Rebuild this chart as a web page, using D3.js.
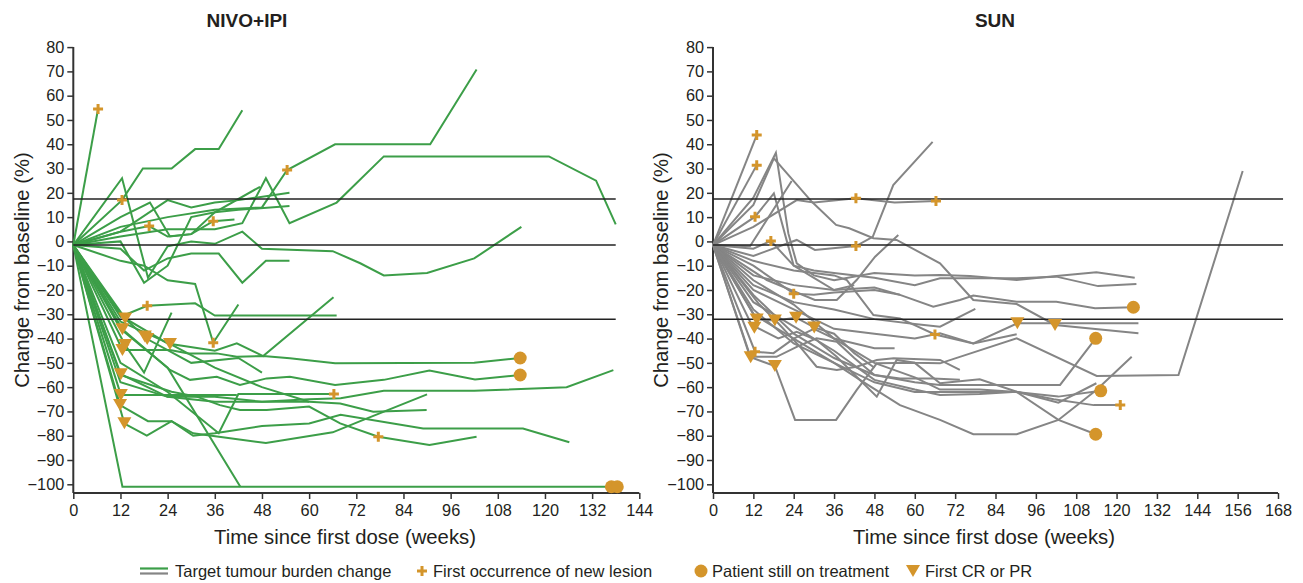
<!DOCTYPE html>
<html><head><meta charset="utf-8">
<script src="https://cdn.jsdelivr.net/npm/d3@7"></script>
<style>body{margin:0;background:#fff} text{font-family:"Liberation Sans",Arial,sans-serif;fill:#231f20}</style>
</head><body>
<svg id="c" width="1303" height="583"></svg>
<script>
// ---------- data ----------
const yTicks = d3.range(-100, 81, 10);
const xTicksNivo = d3.range(0, 145, 12);
const xTicksSun = d3.range(0, 169, 12);
const refLevels = [17.5, -1.5, -32];

const nivoLines = [
 [[0,-1.5],[6.3,54.5]],
 [[0,-1.5],[12.4,17],[17.7,30],[25,30],[31,38],[37,38],[43,54]],
 [[0,-1.5],[12.4,26],[19,-15],[24,-2],[30,0],[36,-1],[43,4],[48,-3],[66,-4],[73,-9],[79,-14],[90,-13],[102,-7],[114,6]],
 [[0,-1.5],[12,4],[19.3,6.3],[24,2],[30,3],[35.6,8.3],[41,9]],
 [[0,-1.5],[12,6],[24,10],[36,13],[48,14],[54.4,29.4],[66.6,40],[90.8,40],[102.6,70.8]],
 [[0,-1.5],[12,2],[24,5],[36,5],[43,7.5],[49,26],[55,7.5],[67,16],[79,35],[121,35],[133,25],[138,7]],
 [[0,-1.5],[12,10],[19.5,16],[24.6,2],[30,3],[36,12],[47.5,22.5]],
 [[0,-1.5],[12,4],[24,17],[30,14],[36,16],[42,17],[55,20]],
 [[0,-1.5],[12,0],[18,-17],[24,-10],[30,10],[36,12],[42,13],[55,14.6]],
 [[0,-1.5],[12,-3],[18,-12],[24,-7],[30,-5],[37,-5],[43,-17],[49,-8],[55,-8]],
 [[0,-1.5],[12,-8],[18,-10],[24,-16],[31,-17.5],[35.6,-41.7],[42,-26]],
 [[0,-1.5],[12,-31],[18.8,-26.5],[31,-25.5],[36,-30.5],[67,-30.5]],
 [[0,-1.5],[12.5,-101],[138.4,-101]],
 [[0,-1.5],[12,-36],[24,-52],[42.5,-101]],
 [[0,-1.5],[12.5,-44.7],[24.6,-44.7],[29.3,-46.1],[36.5,-46.1],[41.6,-47.5],[48.3,-47.2],[55.1,-48.1],[66.6,-50.2],[102,-50],[113.7,-48]],
 [[0,-1.5],[12.5,-36.2],[24.6,-52.9],[29.7,-57],[36.5,-55.7],[42.4,-59.1],[49.2,-56.4],[55.1,-55.7],[66.6,-59.1],[79,-57],[90.6,-53.2],[102.2,-56.8],[113.7,-55]],
 [[0,-1.5],[12.1,-54.7],[24,-64],[36,-66],[48,-66],[60,-65],[68,-64.6],[79,-61.5],[102,-61.5],[125.5,-60],[137.4,-53]],
 [[0,-1.5],[12.1,-63.2],[41.6,-63.2]],
 [[0,-1.5],[12,-50],[24,-62],[37,-79],[42,-62.8],[66.3,-62.8]],
 [[0,-1.5],[11.9,-67.4],[19,-74],[25,-74],[30.5,-79],[49,-83],[66,-78.6],[73,-74],[90,-63]],
 [[0,-1.5],[13,-75],[18.7,-80],[25,-74],[30.5,-80],[36,-79],[48,-76],[60,-75],[68,-71.4],[89,-77],[114.4,-77],[126.2,-82.7]],
 [[0,-1.5],[12,-55],[25,-61.9],[31.4,-63.9],[37.3,-67.4],[42.4,-69.4],[49.2,-69.4],[60,-68],[67.9,-74.9],[77.6,-80.4],[90.6,-83.8],[102.6,-80.4]],
 [[0,-1.5],[12,-58],[24,-64],[36,-64],[48,-66],[60,-66],[67.9,-66.7],[76.3,-70.1],[89.9,-69.4]],
 [[0,-1.5],[13.2,-31.7],[24,-42],[36,-45],[41.6,-42],[48.3,-47.2],[66.2,-23]],
 [[0,-1.5],[13.2,-42.7],[18,-54],[25,-29.3]],
 [[0,-1.5],[12,-30],[18.8,-40.2],[30,-50],[42,-48],[48,-54]],
 [[0,-1.5],[12,-33],[24.6,-42.2],[36,-52],[48,-60],[60,-66]]
];
const nivoNewLesion = [[6.3,54.5],[12.4,17],[19.3,6.3],[35.6,8.3],[54.4,29.4],[18.8,-26.5],[35.6,-41.7],[66.3,-62.8],[77.6,-80.4]];
const nivoOnTreatment = [[113.7,-48],[113.7,-55],[136.9,-101],[138.4,-101]];
const nivoResponse = [[13.2,-31.7],[12.5,-36.2],[13.2,-42.7],[12.5,-44.7],[18.2,-39.2],[18.8,-40.2],[24.6,-42.2],[12.1,-54.7],[12.1,-63.2],[11.9,-67.4],[13,-74.9]];

const sunLines = [
 [[0,-1.5],[13,43.8]],
 [[0,-1.5],[13,31.4]],
 [[0,-1.5],[11,-2],[23.4,24.9]],
 [[0,-1.5],[12,15],[18.1,34.2],[29.4,16.3],[36.6,6.8],[40.5,5.4],[47.7,1.3],[54.6,0.6],[67.5,-9],[77.4,-24.1],[90.3,-25.8],[101.7,-34.4],[126.5,-37.8]],
 [[0,-1.5],[12,18],[18.7,36.5],[22.4,3.3],[24.9,-9],[30,-14],[36,-16],[48,-13],[60,-14],[67.5,-13.8],[76.4,-14.2],[90.3,-15.9],[102.1,-14.2],[114,-12.7],[125.4,-15]],
 [[0,-1.5],[12,6],[24.9,17],[30,16],[42.5,17.8],[54,16],[66.3,16.6]],
 [[0,-1.5],[12.5,10.2],[18.1,19.8],[22.1,-0.6],[24,-10],[30,-15],[36,-20],[42,-18]],
 [[0,-1.5],[12,-6],[24.9,0.6],[30.3,-3.5],[42.5,-1.9],[47.5,1.9],[53.6,23.2],[65.3,41]],
 [[0,-1.5],[12,-3],[17.2,0.2],[24,-10],[30,-12],[36,-13],[48,-15],[60,-18],[67.5,-15.2],[90.3,-15.2],[102.1,-14.5],[114.5,-18.4],[125.9,-17.5]],
 [[0,-1.5],[12,-8],[24,-12],[36,-14],[39.8,-15.9],[47.7,-30.3],[55.6,-31.7],[66,-38.3],[77.4,-42],[90.3,-38.2]],
 [[0,-1.5],[12,-14],[24,-18],[36,-20],[48,-19],[55.6,-22],[65.5,-26.9],[73.4,-24.1],[77.4,-22.3],[90.3,-24.8],[102.1,-24.8],[113.6,-27.5],[125,-27.1]],
 [[0,-1.5],[16,-15.9],[30.3,-24.1],[36.8,-24.1],[42.7,-15.9],[48.2,-6.3],[55.1,2.6]],
 [[0,-1.5],[13,-32.1],[18.4,-32.6],[24.7,-31.4],[30.1,-35.4],[36,-38],[42,-46],[48,-52]],
 [[0,-1.5],[11.5,-34.4],[19.4,-39.9],[24.9,-37.2],[30.8,-40.6],[36.8,-47.5],[42.7,-55.7],[48.7,-63.9],[54.6,-48.8],[60,-50],[67.5,-50.2],[90.3,-39.9],[114.1,-55.4],[138.4,-55],[157.5,29]],
 [[0,-1.5],[11,-47.5],[18.9,-47.5],[24.9,-43.4],[30.8,-39.9],[36.8,-41.3],[42,-48],[48,-55],[55.6,-56.4],[65.5,-56.4],[73.4,-57]],
 [[0,-1.5],[13.5,-25.5],[19.4,-33.7],[25.9,-43.4],[30.8,-51.6],[36.8,-52.9],[42.7,-51.6],[48.7,-48.8],[53.7,-48.1],[67.5,-48.8],[73.4,-52.9]],
 [[0,-1.5],[11.2,-47.7],[18.4,-51.3],[24.4,-73.5],[36.6,-73.5],[42.7,-61.2],[48.7,-50.2],[60,-50],[67.5,-58.4],[79.3,-56.8],[90.3,-61.9],[102.7,-66.4],[114,-58.4]],
 [[0,-1.5],[12,-30],[24,-40],[36,-50],[43.7,-57],[55.6,-67.4],[67.5,-73.5],[77.4,-79.4],[90.3,-79.4],[102.7,-73.5],[114,-61.2],[124.5,-47.5]],
 [[0,-1.5],[12,-25],[24,-35],[36,-45],[48,-57],[60,-61],[67.5,-63.2],[79.3,-62.8],[90.3,-61.9],[101.3,-65],[113.2,-67.4],[121.1,-67.4]],
 [[0,-1.5],[12,-16],[24,-26],[36,-40],[48,-50],[60,-56],[67.5,-61],[79.3,-61],[90.3,-62],[102.7,-73.5],[113.8,-79.4]],
 [[0,-1.5],[12,-22],[24,-38],[36,-48],[48,-55],[60,-58],[67.5,-59.1],[103.2,-59.1],[113.8,-39.9]],
 [[0,-1.5],[12,-28],[24,-42],[36,-50],[48,-58],[60,-62],[72,-62],[90,-62],[102.7,-63.9],[115.3,-61.5]],
 [[0,-1.5],[12,-20],[24,-28],[36,-36],[48,-38],[60,-40],[67.5,-37.8],[77.4,-42],[90.5,-33.7],[101.7,-33.7],[126.5,-33.7]],
 [[0,-1.5],[12,-18],[24,-25],[36,-28],[48,-32],[60,-34],[67.5,-35.1],[78,-27.8]],
 [[0,-1.5],[12.5,-45.4],[18,-46],[24,-40],[30,-36],[36,-40],[48,-44],[54,-44]],
 [[0,-1.5],[12,-10],[24,-21.5],[30,-22],[36,-21],[48,-20],[55.6,-22]]
];
const sunNewLesion = [[13,43.8],[13,31.4],[12.5,10.2],[17.2,0.2],[24,-21.5],[42.5,17.8],[42.5,-1.9],[66.3,16.6],[66,-38.3],[12.5,-45.4],[121.1,-67.4]];
const sunOnTreatment = [[125,-27.1],[113.8,-39.9],[115.3,-61.5],[113.8,-79.4]];
const sunResponse = [[13,-32.1],[12.3,-35.5],[18.4,-32.6],[24.7,-31.4],[30.1,-35.4],[11.2,-47.7],[18.4,-51.3],[90.5,-33.7],[101.7,-34.4]];

const titles = ["NIVO+IPI", "SUN"];
const legendLabels = ["Target tumour burden change", "First occurrence of new lesion", "Patient still on treatment", "First CR or PR"];

// ---------- styling ----------
const GREEN = "#3c9e48", GRAY = "#858585", ORANGE = "#d4952b", AXIS = "#333";
const svg = d3.select("#c");
const yScale = d3.scaleLinear().domain([-100, 80]).range([484.3, 47.1]);
const axisBottomY = 493;

const panels = [
  {title: titles[0], lines: nivoLines, color: GREEN, xDomain: [0,144], xRange: [73.3, 639.3], ticks: xTicksNivo,
   refEnd: 138, lesion: nivoNewLesion, onT: nivoOnTreatment, resp: nivoResponse, titleX: 247, yLabX: 22, xLabX: 345},
  {title: titles[1], lines: sunLines, color: GRAY, xDomain: [0,168], xRange: [713, 1278], ticks: xTicksSun,
   refEnd: 169.5, lesion: sunNewLesion, onT: sunOnTreatment, resp: sunResponse, titleX: 995, yLabX: 661, xLabX: 984}
];

function plusPath(s){return `M${-s},0H${s}M0,${-s}V${s}`;}
function triPath(w,h){return `M${-w/2},${-h/2}L${w/2},${-h/2}L0,${h/2}Z`;}

panels.forEach(p => {
  const x = d3.scaleLinear().domain(p.xDomain).range(p.xRange);
  const g = svg.append("g");
  const ya = d3.axisLeft(yScale).tickValues(yTicks).tickSize(6).tickPadding(3).tickSizeOuter(0);
  const yg = g.append("g").attr("transform", `translate(${p.xRange[0]},0)`).call(ya);
  yg.select(".domain").remove();
  const xa = d3.axisBottom(x).tickValues(p.ticks).tickSize(6).tickPadding(5).tickSizeOuter(0);
  const xg = g.append("g").attr("transform", `translate(0,${axisBottomY})`).call(xa);
  xg.select(".domain").remove();
  [yg, xg].forEach(a => {
    a.selectAll("text").attr("font-size", 16.3).attr("font-family", '"Liberation Sans",Arial,sans-serif').style("fill", "#231f20");
    a.selectAll("line").attr("stroke", AXIS).attr("stroke-width", 1.5);
  });
  g.append("line").attr("x1", p.xRange[0]).attr("x2", p.xRange[0]).attr("y1", yScale(80)).attr("y2", axisBottomY)
    .attr("stroke", AXIS).attr("stroke-width", 2);
  g.append("line").attr("x1", p.xRange[0]).attr("x2", p.xRange[1]).attr("y1", axisBottomY).attr("y2", axisBottomY)
    .attr("stroke", AXIS).attr("stroke-width", 2);

  const line = d3.line().x(d => x(d[0])).y(d => yScale(d[1]));
  g.append("g").selectAll("path").data(p.lines).join("path")
    .attr("d", line).attr("fill", "none").attr("stroke", p.color).attr("stroke-width", 2);

  g.append("g").selectAll("line").data(refLevels).join("line")
    .attr("x1", p.xRange[0]).attr("x2", x(p.refEnd)).attr("y1", d => yScale(d)).attr("y2", d => yScale(d))
    .attr("stroke", "#222").attr("stroke-width", 1.5);

  g.append("g").selectAll("path").data(p.lesion).join("path")
    .attr("transform", d => `translate(${x(d[0])},${yScale(d[1])})`).attr("d", plusPath(5))
    .attr("stroke", ORANGE).attr("stroke-width", 3).attr("fill", "none");
  g.append("g").selectAll("circle").data(p.onT).join("circle")
    .attr("cx", d => x(d[0])).attr("cy", d => yScale(d[1])).attr("r", 6.5).attr("fill", ORANGE);
  g.append("g").selectAll("path").data(p.resp).join("path")
    .attr("transform", d => `translate(${x(d[0])},${yScale(d[1])})`).attr("d", triPath(14, 12)).attr("fill", ORANGE);

  g.append("text").attr("x", p.titleX).attr("y", 27).attr("text-anchor", "middle")
    .attr("font-size", 19).attr("font-weight", "bold").text(p.title);
  g.append("text").attr("transform", `translate(${p.yLabX},${(yScale(80)+axisBottomY)/2}) rotate(-90)`)
    .attr("text-anchor", "middle").attr("font-size", 20.3).attr("dy", "0.35em").text("Change from baseline (%)");
  g.append("text").attr("x", p.xLabX).attr("y", 544).attr("text-anchor", "middle").attr("font-size", 20.3)
    .text("Time since first dose (weeks)");
});

const lg = svg.append("g");
const ly = 571;
lg.append("line").attr("x1", 140).attr("x2", 168).attr("y1", ly-2.5).attr("y2", ly-2.5).attr("stroke", GREEN).attr("stroke-width", 2.2);
lg.append("line").attr("x1", 140).attr("x2", 168).attr("y1", ly+2.5).attr("y2", ly+2.5).attr("stroke", GRAY).attr("stroke-width", 2.2);
lg.append("path").attr("transform", `translate(422,${ly})`).attr("d", plusPath(5)).attr("stroke", ORANGE).attr("stroke-width", 3);
lg.append("circle").attr("cx", 701).attr("cy", ly).attr("r", 6.5).attr("fill", ORANGE);
lg.append("path").attr("transform", `translate(913,${ly})`).attr("d", triPath(14, 12)).attr("fill", ORANGE);
const lx = [175, 433, 712, 925];
legendLabels.forEach((t, i) => {
  lg.append("text").attr("x", lx[i]).attr("y", ly + 6).attr("font-size", 16.5).text(t);
});
</script>
</body></html>
